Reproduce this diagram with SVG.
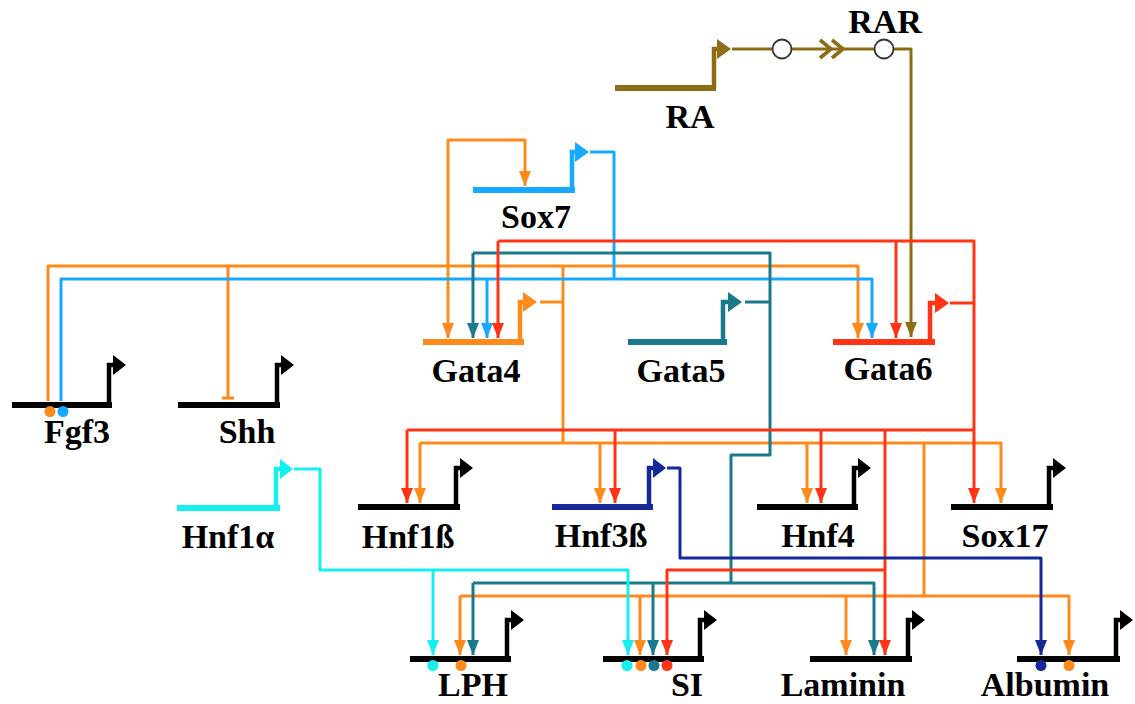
<svg xmlns="http://www.w3.org/2000/svg" width="1135" height="704" viewBox="0 0 1135 704">
<style>
text{font-family:"Liberation Serif","Times New Roman",serif;font-weight:bold;font-size:34px;text-anchor:middle;fill:#000}
.c{fill:none;stroke-width:3;stroke-linejoin:round;stroke-linecap:butt}
.p{fill:none;stroke-width:6;stroke-linejoin:miter}
.pv{fill:none;stroke-width:4.5}
.or{stroke:#ff8a1c}.bl{stroke:#17a9ff}.rd{stroke:#ff3315}.tl{stroke:#187a8c}.ol{stroke:#8d6c14}.cy{stroke:#14f0f0}.nv{stroke:#152a98}.bk{stroke:#000}
</style>
<defs>
<marker id="aor" markerUnits="userSpaceOnUse" markerWidth="15" markerHeight="12" viewBox="0 0 15 12" refX="15" refY="6" orient="auto"><path d="M0,0L15,6L0,12z" fill="#ff8a1c"/></marker>
<marker id="abl" markerUnits="userSpaceOnUse" markerWidth="15" markerHeight="12" viewBox="0 0 15 12" refX="15" refY="6" orient="auto"><path d="M0,0L15,6L0,12z" fill="#17a9ff"/></marker>
<marker id="ard" markerUnits="userSpaceOnUse" markerWidth="15" markerHeight="12" viewBox="0 0 15 12" refX="15" refY="6" orient="auto"><path d="M0,0L15,6L0,12z" fill="#ff3315"/></marker>
<marker id="atl" markerUnits="userSpaceOnUse" markerWidth="15" markerHeight="12" viewBox="0 0 15 12" refX="15" refY="6" orient="auto"><path d="M0,0L15,6L0,12z" fill="#187a8c"/></marker>
<marker id="aol" markerUnits="userSpaceOnUse" markerWidth="15" markerHeight="12" viewBox="0 0 15 12" refX="15" refY="6" orient="auto"><path d="M0,0L15,6L0,12z" fill="#8d6c14"/></marker>
<marker id="acy" markerUnits="userSpaceOnUse" markerWidth="15" markerHeight="12" viewBox="0 0 15 12" refX="15" refY="6" orient="auto"><path d="M0,0L15,6L0,12z" fill="#14f0f0"/></marker>
<marker id="anv" markerUnits="userSpaceOnUse" markerWidth="15" markerHeight="12" viewBox="0 0 15 12" refX="15" refY="6" orient="auto"><path d="M0,0L15,6L0,12z" fill="#152a98"/></marker>
</defs>
<rect width="1135" height="704" fill="#fff"/>

<g id="connectors">
  <!-- RA -> RAR -> Gata6 -->
  <path class="c ol" d="M732,49H911V337" marker-end="url(#aol)"/>
  <path d="M820,40L831,49L820,58M832,40L843,49L832,58" fill="none" stroke="#8d6c14" stroke-width="3.6"/>
  <circle cx="782" cy="49" r="9.5" fill="#fff" stroke="#333" stroke-width="1.8"/>
  <circle cx="884" cy="49" r="9.5" fill="#fff" stroke="#333" stroke-width="1.8"/>

  <!-- Gata4 (orange) -->
  <path class="c or" d="M540,302H563"/>
  <path class="c or" d="M563,266V443"/>
  <path class="c or" d="M48,401V266H858V338" marker-end="url(#aor)"/>
  <path class="c or" d="M228,266V398M222,398H234"/>
  <path class="c or" d="M448,266V140H525V186" marker-end="url(#aor)"/>
  <path class="c or" d="M448,266V338" marker-end="url(#aor)"/>
  <path class="c or" d="M420,443H1001V503" marker-end="url(#aor)"/>
  <path class="c or" d="M420,443V503" marker-end="url(#aor)"/>
  <path class="c or" d="M600,443V503" marker-end="url(#aor)"/>
  <path class="c or" d="M807,443V503" marker-end="url(#aor)"/>
  <path class="c or" d="M924,443V596"/>
  <path class="c or" d="M460,596H1069V655" marker-end="url(#aor)"/>
  <path class="c or" d="M460,596V655" marker-end="url(#aor)"/>
  <path class="c or" d="M640,596V655" marker-end="url(#aor)"/>
  <path class="c or" d="M846,596V655" marker-end="url(#aor)"/>

  <!-- Sox7 (blue) -->
  <path class="c bl" d="M590,152H614V279"/>
  <path class="c bl" d="M61,401V279H872V338" marker-end="url(#abl)"/>
  <path class="c bl" d="M487,279V338" marker-end="url(#abl)"/>

  <!-- Gata5 (teal) -->
  <path class="c tl" d="M745,302H770"/>
  <path class="c tl" d="M473,253H770V455H731V583"/>
  <path class="c tl" d="M473,253V338" marker-end="url(#atl)"/>
  <path class="c tl" d="M473,583H874V655" marker-end="url(#atl)"/>
  <path class="c tl" d="M473,583V655" marker-end="url(#atl)"/>
  <path class="c tl" d="M653,583V655" marker-end="url(#atl)"/>

  <!-- Gata6 (red) -->
  <path class="c rd" d="M950,303H974"/>
  <path class="c rd" d="M498,241H974V503" marker-end="url(#ard)"/>
  <path class="c rd" d="M498,241V338" marker-end="url(#ard)"/>
  <path class="c rd" d="M896,241V338" marker-end="url(#ard)"/>
  <path class="c rd" d="M407,430H974"/>
  <path class="c rd" d="M407,430V503" marker-end="url(#ard)"/>
  <path class="c rd" d="M615,430V503" marker-end="url(#ard)"/>
  <path class="c rd" d="M821,430V503" marker-end="url(#ard)"/>
  <path class="c rd" d="M885,430V655" marker-end="url(#ard)"/>
  <path class="c rd" d="M885,570H667V655" marker-end="url(#ard)"/>

  <!-- Hnf1a (cyan) -->
  <path class="c cy" d="M294,469H320V570H628V655" marker-end="url(#acy)"/>
  <path class="c cy" d="M433,570V655" marker-end="url(#acy)"/>

  <!-- Hnf3b (navy) -->
  <path class="c nv" d="M667,468H680V558H1041V655" marker-end="url(#anv)"/>
</g>

<g id="RA">
  <path class="p ol" d="M615,88H716"/><path class="pv ol" d="M714,88V49H718"/><path d="M717,39L731,49L717,59z" fill="#8d6c14"/>
  <text x="690" y="128">RA</text>
</g>
<g id="RAR"><text x="885" y="33">RAR</text></g>
<g id="Sox7">
  <path class="p bl" d="M473,190H575"/><path class="pv bl" d="M572,190V152H576"/><path d="M575,142L589,152L575,162z" fill="#17a9ff"/>
  <text x="536" y="228">Sox7</text>
</g>
<g id="Gata4">
  <path class="p or" d="M423,342H524"/><path class="pv or" d="M520,342V302H524"/><path d="M523,292L537,302L523,312z" fill="#ff8a1c"/>
  <text x="476" y="382">Gata4</text>
</g>
<g id="Gata5">
  <path class="p tl" d="M628,342H727"/><path class="pv tl" d="M723,342V302H729"/><path d="M728,292L742,302L728,312z" fill="#187a8c"/>
  <text x="681" y="382">Gata5</text>
</g>
<g id="Gata6">
  <path class="p rd" d="M833,342H935"/><path class="pv rd" d="M930,342V303H936"/><path d="M935,293L949,303L935,313z" fill="#ff3315"/>
  <text x="888" y="380">Gata6</text>
</g>
<g id="Fgf3">
  <path class="p bk" d="M12,405H112"/><path class="pv bk" d="M109,405V365H114"/><path d="M113,355L126,365L113,375z"/>
  <circle cx="50" cy="411.5" r="5.5" fill="#ff8a1c"/><circle cx="63" cy="411.5" r="5.5" fill="#17a9ff"/>
  <text x="77" y="443">Fgf3</text>
</g>
<g id="Shh">
  <path class="p bk" d="M178,405H280"/><path class="pv bk" d="M277,405V365H282"/><path d="M281,355L294,365L281,375z"/>
  <text x="247" y="443">Shh</text>
</g>
<g id="Hnf1a">
  <path class="p cy" d="M177,508H280"/><path class="pv cy" d="M276,508V469H281"/><path d="M280,459L293,469L280,479z" fill="#14f0f0"/>
  <text x="228" y="548">Hnf1α</text>
</g>
<g id="Hnf1b">
  <path class="p bk" d="M358,507H460"/><path class="pv bk" d="M456,507V468H461"/><path d="M460,458L473,468L460,478z"/>
  <text x="408" y="548">Hnf1ß</text>
</g>
<g id="Hnf3b">
  <path class="p nv" d="M552,507H653"/><path class="pv nv" d="M649,507V468H654"/><path d="M653,458L666,468L653,478z" fill="#152a98"/>
  <text x="601" y="547">Hnf3ß</text>
</g>
<g id="Hnf4">
  <path class="p bk" d="M757,507H858"/><path class="pv bk" d="M854,507V468H859"/><path d="M858,458L871,468L858,478z"/>
  <text x="818" y="547">Hnf4</text>
</g>
<g id="Sox17">
  <path class="p bk" d="M951,507H1053"/><path class="pv bk" d="M1049,507V468H1054"/><path d="M1053,458L1066,468L1053,478z"/>
  <text x="1005" y="547">Sox17</text>
</g>
<g id="LPH">
  <path class="p bk" d="M410,659H511"/><path class="pv bk" d="M507,659V620H512"/><path d="M511,610L524,620L511,630z"/>
  <circle cx="433" cy="665.5" r="5.5" fill="#14f0f0"/><circle cx="461" cy="665.5" r="5.5" fill="#ff8a1c"/>
  <text x="473" y="696">LPH</text>
</g>
<g id="SI">
  <path class="p bk" d="M603,659H704"/><path class="pv bk" d="M700,659V620H705"/><path d="M704,610L717,620L704,630z"/>
  <circle cx="627" cy="665.5" r="5.5" fill="#14f0f0"/><circle cx="641" cy="665.5" r="5.5" fill="#ff8a1c"/><circle cx="654" cy="665.5" r="5.5" fill="#187a8c"/><circle cx="667" cy="665.5" r="5.5" fill="#ff3315"/>
  <text x="687" y="696">SI</text>
</g>
<g id="Laminin">
  <path class="p bk" d="M810,659H912"/><path class="pv bk" d="M908,659V620H913"/><path d="M912,610L925,620L912,630z"/>
  <text x="843" y="696">Laminin</text>
</g>
<g id="Albumin">
  <path class="p bk" d="M1017,659H1120"/><path class="pv bk" d="M1116,659V620H1121"/><path d="M1120,610L1133,620L1120,630z"/>
  <circle cx="1041" cy="665.5" r="5.5" fill="#152a98"/><circle cx="1069" cy="665.5" r="5.5" fill="#ff8a1c"/>
  <text x="1045" y="696">Albumin</text>
</g>
</svg>
